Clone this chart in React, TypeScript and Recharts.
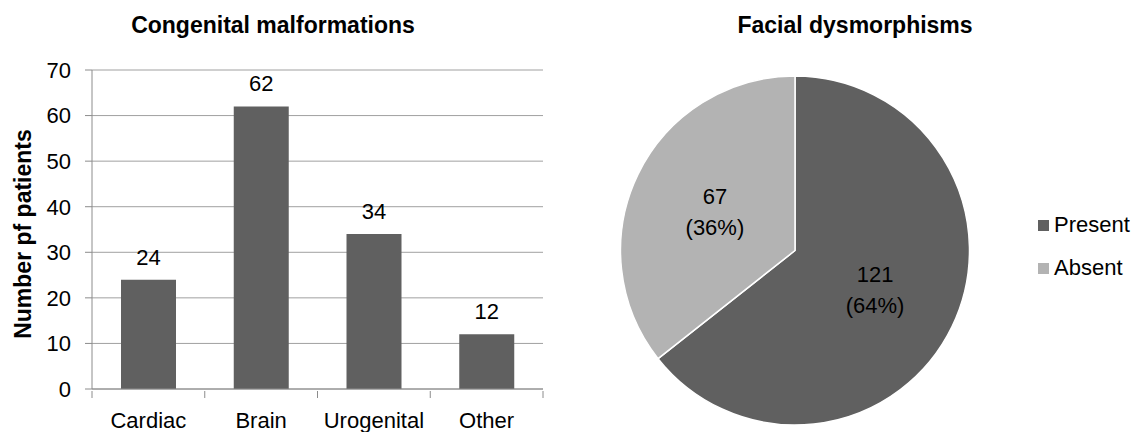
import {
  BarChart,
  Bar,
  XAxis,
  YAxis,
  CartesianGrid,
  LabelList,
  PieChart,
  Pie,
  Cell,
} from "recharts";

const FONT = '"Liberation Sans", Arial, sans-serif';

// congenital malformations, patient counts per category
const categories = ["Cardiac", "Brain", "Urogenital", "Other"];
const malformationCounts = [24, 62, 34, 12];
const yTicks = [0, 10, 20, 30, 40, 50, 60, 70];

// facial dysmorphisms
const dysmorphismGroups = ["Present", "Absent"];
const dysmorphismCounts = [121, 67];
const pieColors = ["#606060", "#b3b3b3"];

const barData = categories.map((name, i) => ({ name, value: malformationCounts[i] }));
const pieData = dysmorphismGroups.map((name, i) => ({ name, value: dysmorphismCounts[i] }));

const RADIAN = Math.PI / 180;

// category label with tick marks on the band edges instead of the centre
function CategoryTick(props: any) {
  const { x, y, payload, index, visibleTicksCount } = props;
  const half = payload.offset ?? 0;
  const top = props.y1 ?? y - 7;
  return (
    <g>
      <line x1={x - half} x2={x - half} y1={top} y2={top + 7} stroke="#8c8c8c" />
      {index === visibleTicksCount - 1 && (
        <line x1={x + half} x2={x + half} y1={top} y2={top + 7} stroke="#8c8c8c" />
      )}
      <text x={x} y={top + 37} textAnchor="middle" fontSize={22} fill="#000" fontFamily={FONT}>
        {payload.value}
      </text>
    </g>
  );
}

function SliceLabel(props: any) {
  const { cx, cy, midAngle, outerRadius, value, percent } = props;
  const r = outerRadius * 0.51;
  const x = cx + r * Math.cos(-midAngle * RADIAN);
  const y = cy + r * Math.sin(-midAngle * RADIAN);
  return (
    <text
      x={x}
      y={y}
      textAnchor="middle"
      dominantBaseline="central"
      fontSize={22}
      fill="#000"
      fontFamily={FONT}
    >
      <tspan x={x} y={y - 15.5}>{value}</tspan>
      <tspan x={x} y={y + 15.5}>({Math.round(percent * 100)}%)</tspan>
    </text>
  );
}

const titleStyle: React.CSSProperties = {
  position: "absolute",
  top: 11,
  fontFamily: FONT,
  fontWeight: "bold",
  fontSize: 23,
  lineHeight: "28px",
  whiteSpace: "nowrap",
  transform: "translateX(-50%)",
};

export default function App() {
  return (
    <div
      style={{
        position: "absolute",
        left: 0,
        top: 0,
        width: 1137,
        height: 432,
        background: "#fff",
        fontFamily: FONT,
      }}
    >
      <div style={{ ...titleStyle, left: 273 }}>Congenital malformations</div>
      <div style={{ ...titleStyle, left: 855 }}>Facial dysmorphisms</div>
      <div
        style={{
          position: "absolute",
          left: 23,
          top: 234,
          fontFamily: FONT,
          fontWeight: "bold",
          fontSize: 23,
          lineHeight: "28px",
          whiteSpace: "nowrap",
          transform: "translate(-50%, -50%) rotate(-90deg)",
        }}
      >
        Number pf patients
      </div>

      <div style={{ position: "absolute", left: 0, top: 0 }}>
        <BarChart
          width={560}
          height={432}
          data={barData}
          margin={{ top: 70, right: 17, bottom: 0, left: 0 }}
        >
          <CartesianGrid vertical={false} stroke="#a0a0a0" />
          <XAxis
            dataKey="name"
            height={43}
            axisLine={{ stroke: "#8c8c8c" }}
            tickLine={false}
            tickSize={7}
            tick={<CategoryTick />}
            interval={0}
          />
          <YAxis
            width={92}
            domain={[0, 70]}
            ticks={yTicks}
            interval={0}
            axisLine={{ stroke: "#8c8c8c" }}
            tickLine={{ stroke: "#8c8c8c" }}
            tickSize={7}
            tickMargin={14}
            tick={{ fontSize: 22, fill: "#000", fontFamily: FONT }}
          />
          <Bar dataKey="value" fill="#606060" barSize={55} isAnimationActive={false}>
            <LabelList
              dataKey="value"
              position="top"
              offset={15}
              fill="#000"
              fontSize={22}
              fontFamily={FONT}
            />
          </Bar>
        </BarChart>
      </div>

      <div style={{ position: "absolute", left: 560, top: 0 }}>
        <PieChart width={577} height={432}>
          <Pie
            data={pieData}
            dataKey="value"
            nameKey="name"
            cx={230}
            cy={245.5}
            outerRadius={174.5}
            startAngle={90}
            endAngle={-270}
            stroke="#fff"
            strokeWidth={1.5}
            label={SliceLabel}
            labelLine={false}
            isAnimationActive={false}
          >
            {pieData.map((d, i) => (
              <Cell key={d.name} fill={pieColors[i]} />
            ))}
          </Pie>
        </PieChart>
      </div>

      {/* legend for the pie */}
      <div style={{ position: "absolute", left: 1038, top: 207 }}>
        {pieData.map((d, i) => (
          <div
            key={d.name}
            style={{ display: "flex", alignItems: "center", height: 36, marginBottom: 7 }}
          >
            <span
              style={{
                display: "inline-block",
                width: 11,
                height: 11,
                background: pieColors[i],
                marginRight: 5,
              }}
            />
            <span style={{ fontSize: 22, color: "#000" }}>{d.name}</span>
          </div>
        ))}
      </div>
    </div>
  );
}
